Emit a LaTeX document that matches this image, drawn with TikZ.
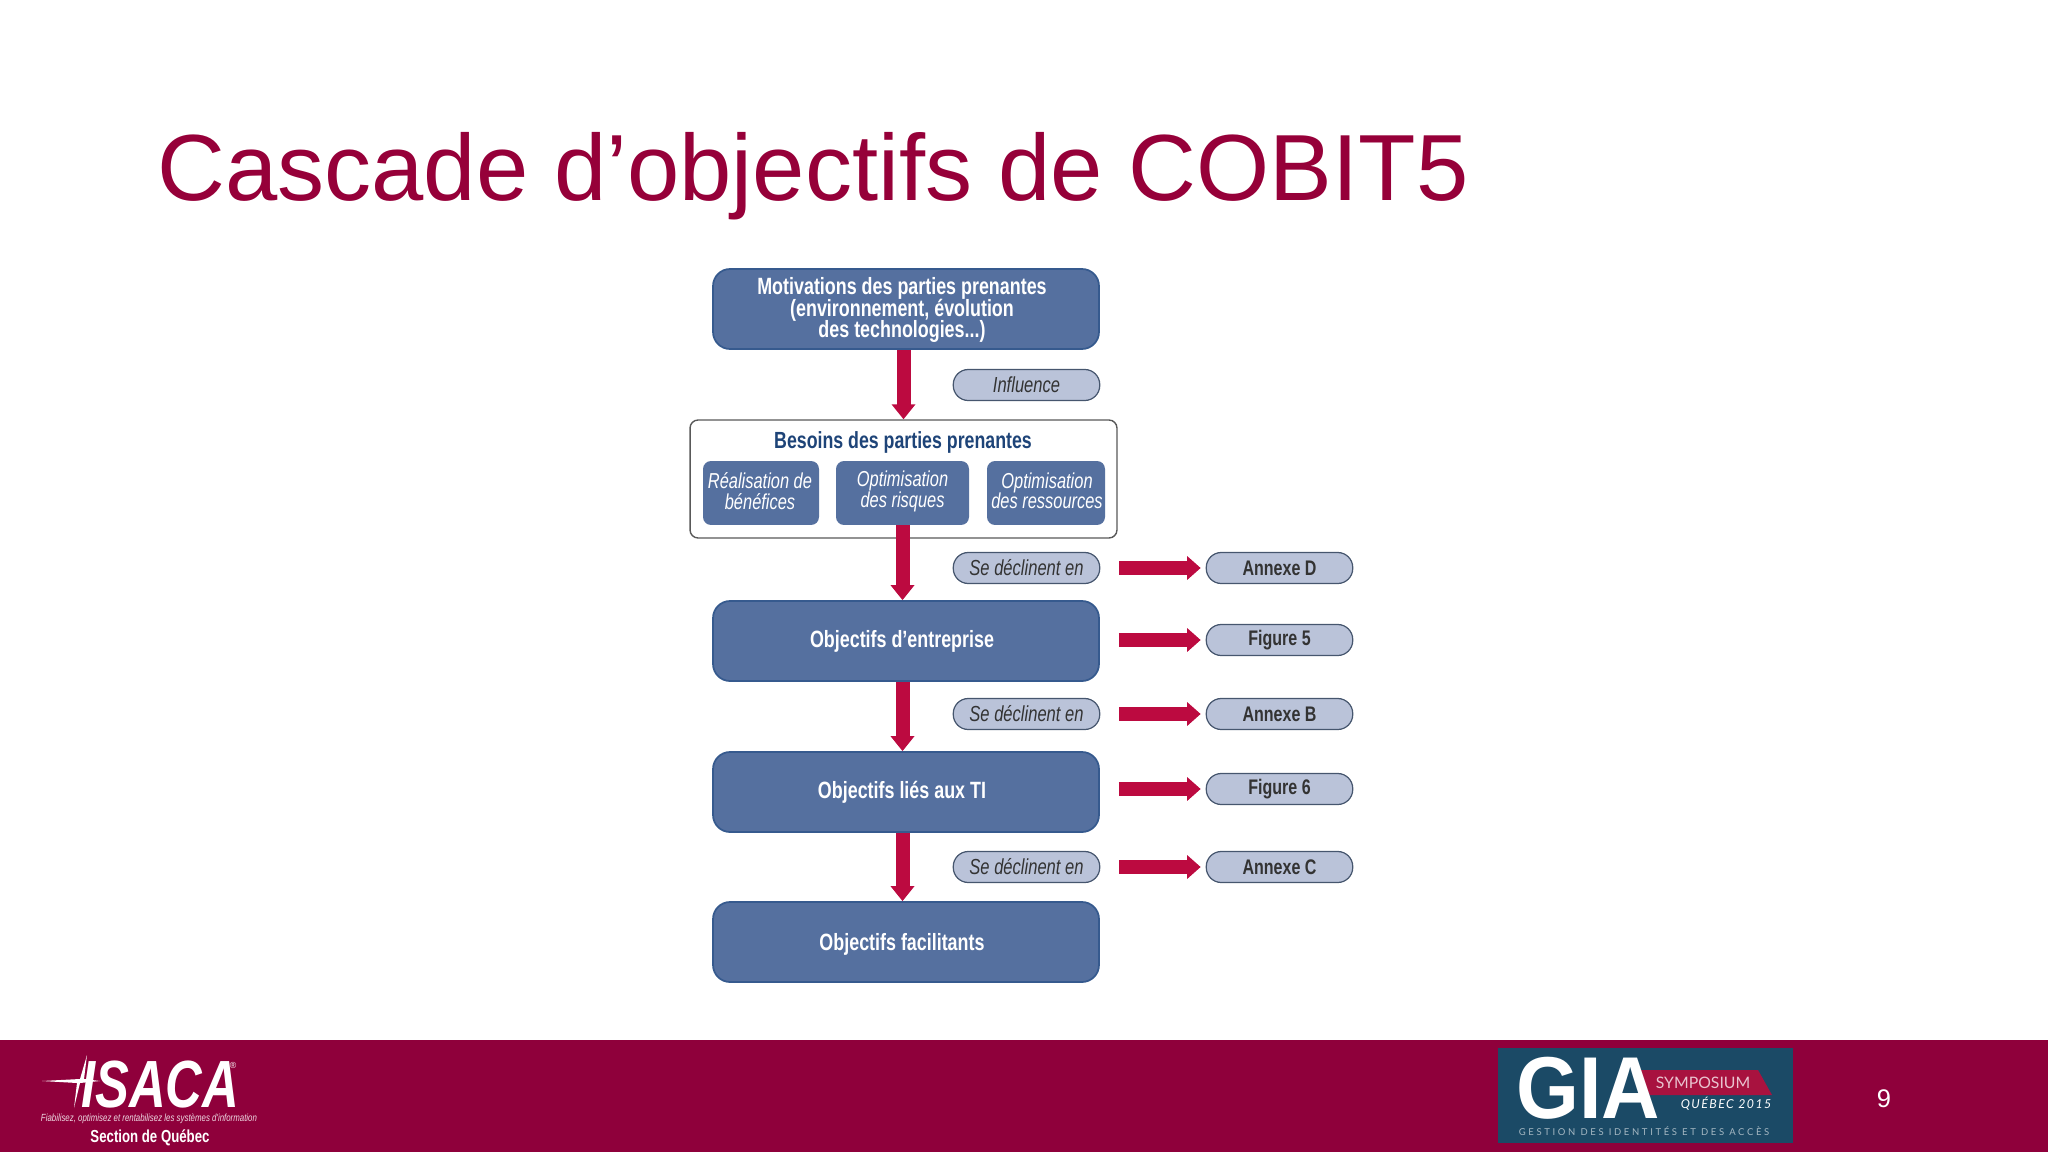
\documentclass[tikz,border=0pt]{standalone}
\usepackage{fontspec}
\setmainfont{Liberation Sans}
\newfontfamily\narrowfont[FakeStretch=0.76]{Liberation Sans}
\newfontfamily\logofont{Lato}
\usetikzlibrary{arrows.meta,shapes.geometric}
\definecolor{titlered}{HTML}{960039}
\definecolor{footerred}{HTML}{8F003B}
\definecolor{boxblue}{HTML}{55709F}
\definecolor{boxline}{HTML}{365A8E}
\definecolor{pillfill}{HTML}{BAC3D9}
\definecolor{pillline}{HTML}{46566E}
\definecolor{arrowred}{HTML}{BC0A40}
\definecolor{titleblue}{HTML}{1E4478}
\definecolor{logoblue}{HTML}{1B4A66}
\definecolor{ribbonred}{HTML}{A8123F}
\setlength{\lineskiplimit}{-10pt}
\tikzset{
  mainbox/.style={draw=boxline,line width=1pt,fill=boxblue,rounded corners=.34cm,
    minimum width=7.72cm,minimum height=1.6cm,inner sep=0pt},
  mainlabel/.style={inner sep=0pt,align=center,text=white,
    font=\narrowfont\bfseries\fontsize{13.4}{12.2}\selectfont},
  subbox/.style={fill=boxblue,rounded corners=.16cm,minimum height=1.28cm,inner sep=0pt},
  sublabel/.style={inner sep=0pt,align=center,text=white,
    font=\narrowfont\itshape\fontsize{12.3}{11.6}\selectfont},
  pill/.style={draw=pillline,line width=.7pt,fill=pillfill,rounded corners=.3cm,
    minimum width=2.93cm,minimum height=.62cm,inner sep=0pt,text=black!80},
  pillit/.style={pill,font=\narrowfont\itshape\fontsize{12.4}{12}\selectfont},
  pillbf/.style={pill,font=\narrowfont\bfseries\fontsize{12}{12}\selectfont},
  downarrow/.style={draw=arrowred,line width=.28cm,-{Triangle[length=.3cm,width=.46cm]}},
  sidearrow/.style={draw=arrowred,line width=.28cm,-{Triangle[length=.27cm,width=.46cm]},
    shorten <=19*.02cm,shorten >=5*.02cm},
}
\begin{document}
\begin{tikzpicture}[x=.02cm,y=-.02cm]
  \useasboundingbox (0,0) rectangle (2048,1152);

  \node[anchor=base west,inner sep=0pt,text=titlered,font=\fontsize{53.5}{60}\selectfont] (title) at (157,201)
    {Cascade d’objectifs de COBIT5};

  % main column
  \node[mainbox] (motiv) at (906,309) {};
  \node[mainlabel] (motivtext) at (902,310) {Motivations des parties prenantes\\(environnement, évolution\\des technologies...)};
  \node[draw=black!65,fill=white,line width=.8pt,rounded corners=.16cm,minimum width=8.54cm,minimum height=2.36cm] (besoins) at (903.5,479) {};
  \node[text=titleblue,inner sep=0pt,font=\narrowfont\bfseries\fontsize{13.3}{12}\selectfont] (besoinstitle) at (903,442) {Besoins des parties prenantes};
  \node[subbox,minimum width=2.32cm] (benefices)  at (761,493) {};
  \node[subbox,minimum width=2.66cm] (risques)    at (902.5,493) {};
  \node[subbox,minimum width=2.36cm] (ressources) at (1046,493) {};
  \node[sublabel] (beneficestext)  at (760,491) {Réalisation de\\bénéfices};
  \node[sublabel] (risquestext)    at (902.5,491.5) {Optimisation\\des risques};
  \node[sublabel] (ressourcestext) at (1047,491) {Optimisation\\des ressources};
  \node[mainbox] (entreprise)  at (906,641) {};
  \node[mainlabel] (entreprisetext)  at (902,641) {Objectifs d’entreprise};
  \node[mainbox] (ti)          at (906,792) {};
  \node[mainlabel] (titext)          at (902,792) {Objectifs liés aux TI};
  \node[mainbox] (facilitants) at (906,942) {};
  \node[mainlabel] (facilitantstext) at (902,944) {Objectifs facilitants};

  % pills
  \node[pillit] (influence) at (1026.5,385) {Influence};
  \node[pillit] (decl1) at (1026.5,568) {Se déclinent en};
  \node[pillit] (decl2) at (1026.5,714) {Se déclinent en};
  \node[pillit] (decl3) at (1026.5,867) {Se déclinent en};
  \node[pillbf] (annexed) at (1279.5,568) {Annexe D};
  \node[pillbf] (figure5) at (1279.5,640) {Figure 5};
  \node[pillbf] (annexeb) at (1279.5,714) {Annexe B};
  \node[pillbf] (figure6) at (1279.5,789) {Figure 6};
  \node[pillbf] (annexec) at (1279.5,867) {Annexe C};

  % arrows
  \draw[downarrow] (besoins.north |- motiv.south) -- (besoins.north);
  \draw[downarrow] (risques.south) -- (risques.south |- entreprise.north);
  \draw[downarrow] (risques.south |- entreprise.south) -- (risques.south |- ti.north);
  \draw[downarrow] (risques.south |- ti.south) -- (risques.south |- facilitants.north);
  \draw[sidearrow] (decl1.east) -- (annexed.west);
  \draw[sidearrow] (figure5.west -| entreprise.east) -- (figure5.west);
  \draw[sidearrow] (decl2.east) -- (annexeb.west);
  \draw[sidearrow] (figure6.west -| ti.east) -- (figure6.west);
  \draw[sidearrow] (decl3.east) -- (annexec.west);

  % footer
  \fill[footerred] (0,1040) rectangle (2048,1152);

  % ISACA logo
  \fill[white] (42,1081) -- (80,1079) -- (87,1055) -- (84,1079) -- (100,1081) -- (80,1083) -- (74,1108) -- (77,1083) -- cycle;
  \node[inner sep=0pt,text=white,font=\narrowfont\bfseries\itshape\fontsize{38}{38}\selectfont] (isaca) at (160,1085) {ISACA};
  \node[inner sep=0pt,text=white,font=\fontsize{5}{5}\selectfont] (registered) at (233,1065) {®};
  \node[inner sep=0pt,text=white!85!footerred,font=\narrowfont\itshape\fontsize{5.9}{7}\selectfont] (tagline) at (149,1119) {Fiabilisez, optimisez et rentabilisez les systèmes d'information};
  \node[inner sep=0pt,text=white,font=\narrowfont\bfseries\fontsize{9.9}{10}\selectfont] (section) at (150,1138) {Section de Québec};

  % GIA logo
  \fill[logoblue] (1498,1048) rectangle (1793,1143);
  \fill[ribbonred] (1636,1070) -- (1758,1070) -- (1772,1095) -- (1650,1095) -- cycle;
  \node[inner sep=0pt,text=white,font=\bfseries\fontsize{50}{50}\selectfont,xscale=.92] (gia) at (1588,1088) {GIA};
  \node[inner sep=0pt,text=ribbonred!25!white,font=\logofont\fontsize{9}{9}\selectfont] (symposium) at (1703,1083) {SYMPOSIUM};
  \node[inner sep=0pt,text=white,font=\logofont\itshape\addfontfeatures{LetterSpace=12}\fontsize{7}{7}\selectfont] (quebec) at (1726,1104) {QUÉBEC 2015};
  \node[inner sep=0pt,text=white!60!logoblue,font=\logofont\addfontfeatures{LetterSpace=28}\fontsize{5.4}{6}\selectfont] (gestion) at (1644,1131) {GESTION DES IDENTITÉS ET DES ACCÈS};

  \node[inner sep=0pt,text=white,font=\fontsize{14.5}{15}\selectfont] (pagenum) at (1884,1099) {9};
\end{tikzpicture}
\end{document}
